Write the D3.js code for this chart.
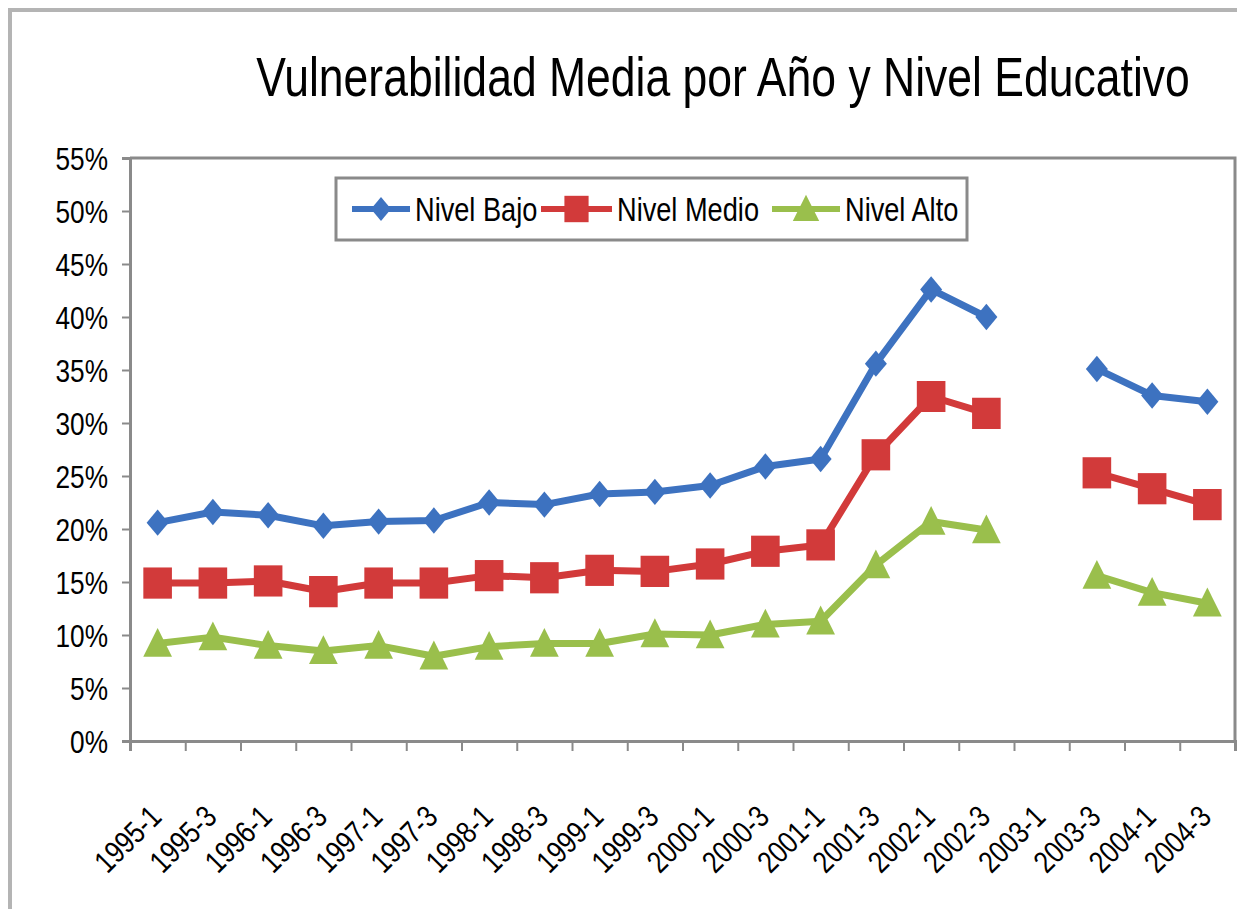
<!DOCTYPE html>
<html>
  <head>
    <meta charset="utf-8">
    <style type="text/css">
      body { margin: 0; background: #fff; }
      svg text { font-family: "Liberation Sans", Arial, sans-serif; fill: #000; }
    </style>
    <title>Vulnerabilidad Media por Año y Nivel Educativo</title>
  </head>
  <body>
    <script src="https://cdn.jsdelivr.net/npm/d3@7"></script>
    <script>

/*========== Data ==========*/
const categories = ["1995-1", "1995-3", "1996-1", "1996-3", "1997-1", "1997-3", "1998-1", "1998-3",
  "1999-1", "1999-3", "2000-1", "2000-3", "2001-1", "2001-3", "2002-1", "2002-3",
  "2003-1", "2003-3", "2004-1", "2004-3"];

// values in %, null = no data (2003-1)
const nivelBajo  = [20.6, 21.6, 21.3, 20.3, 20.7, 20.8, 22.5, 22.3, 23.3, 23.5, 24.1, 25.9, 26.6, 35.6, 42.6, 40.0, null, 35.1, 32.6, 32.0];
const nivelMedio = [14.9, 14.9, 15.1, 14.1, 14.9, 14.9, 15.6, 15.4, 16.1, 16.0, 16.7, 17.9, 18.5, 27.0, 32.5, 30.9, null, 25.3, 23.8, 22.3];
const nivelAlto  = [9.2, 9.8, 9.0, 8.5, 9.0, 8.0, 8.9, 9.2, 9.2, 10.1, 10.0, 11.0, 11.3, 16.6, 20.7, 19.9, null, 15.6, 14.0, 13.0];

const seriesNames = ["Nivel Bajo", "Nivel Medio", "Nivel Alto"];
const yTicks = [0, 5, 10, 15, 20, 25, 30, 35, 40, 45, 50, 55];

/*========== Zones ==========*/
const W = 1237, H = 909;
const plot = {left: 130, right: 1235, top: 158, bottom: 741};
const colors = ["#3d72c0", "#d23a3a", "#9abf4c"];
const squeeze = 0.82; // the original font is a condensed one

var svg = d3.select("body").append("svg")
    .attr("width", W)
    .attr("height", H);

// outer chart frame
svg.append("rect")
    .attr("x", 10).attr("y", 10)
    .attr("width", W + 20).attr("height", H + 20)
    .attr("fill", "#fff")
    .attr("stroke", "#b4b4b4")
    .attr("stroke-width", 4);

// title
svg.append("text")
    .attr("transform", "translate(723,96) scale(0.795,1)")
    .attr("text-anchor", "middle")
    .attr("font-size", 56)
  .text("Vulnerabilidad Media por Año y Nivel Educativo");

/*========== Scales ==========*/
var x = d3.scaleBand()
    .domain(categories)
    .range([plot.left, plot.right]);
var xBound = d3.scaleLinear()
    .domain([0, categories.length])
    .range([plot.left, plot.right]);
var y = d3.scaleLinear()
    .domain([0, 55])
    .range([plot.bottom, plot.top]);

// plot area border (top + right)
svg.append("path")
    .attr("d", `M${plot.left},${plot.top}H${plot.right}V${plot.bottom}`)
    .attr("fill", "none")
    .attr("stroke", "#8a8a8a")
    .attr("stroke-width", 3);

/*========== Axes ==========*/
var yAxis = svg.append("g")
    .attr("transform", `translate(${plot.left},0)`)
    .call(d3.axisLeft(y).tickValues(yTicks).tickSize(8).tickFormat(""));
yAxis.select(".domain").attr("stroke", "#8a8a8a").attr("stroke-width", 3);
yAxis.selectAll(".tick line").attr("stroke", "#8a8a8a").attr("stroke-width", 2);

// y labels, drawn apart so they can be condensed
svg.append("g").selectAll("text")
    .data(yTicks)
    .enter()
    .append("text")
    .attr("transform", d => `translate(108,${y(d)}) scale(${squeeze},1)`)
    .attr("text-anchor", "end")
    .attr("dy", "0.36em")
    .attr("font-size", 32)
  .text(d => d + "%");

var xAxis = svg.append("g")
    .attr("transform", `translate(0,${plot.bottom})`)
    .call(d3.axisBottom(xBound).tickValues(d3.range(categories.length + 1)).tickSize(10).tickFormat(""));
xAxis.select(".domain").attr("stroke", "#8a8a8a").attr("stroke-width", 3);
xAxis.selectAll(".tick line").attr("stroke", "#8a8a8a").attr("stroke-width", 2);

// rotated category labels
svg.append("g").selectAll("text")
    .data(categories)
    .enter()
    .append("text")
    .attr("transform", d => `translate(${x(d) + x.bandwidth() / 2 - 2},${plot.bottom + 70}) rotate(-45) scale(${squeeze},1)`)
    .attr("text-anchor", "end")
    .attr("dy", "0.35em")
    .attr("font-size", 31)
  .text(d => d);

/*========== Markers ==========*/
function markerPath(kind, s) {
  if (kind == 0) { // diamond
    return `M0,${-s * 0.6}L${s * 0.5},0L0,${s * 0.6}L${-s * 0.5},0Z`;
  } else if (kind == 1) { // square
    return `M${-s * 0.55},${-s * 0.6}H${s * 0.55}V${s * 0.6}H${-s * 0.55}Z`;
  } else { // triangle
    return `M0,${-s * 0.65}L${s * 0.6},${s * 0.55}L${-s * 0.6},${s * 0.55}Z`;
  }
}
const markerSize = [22, 26, 24];

/*========== Lines ==========*/
const allSeries = [nivelBajo, nivelMedio, nivelAlto];
var line = d3.line()
    .defined(d => d != null)
    .x((d, i) => x(categories[i]) + x.bandwidth() / 2)
    .y(d => y(d));

for (let k = allSeries.length - 1; k >= 0; k--) {
  svg.append("path")
      .datum(allSeries[k])
      .attr("fill", "none")
      .attr("stroke", colors[k])
      .attr("stroke-width", 7)
      .attr("stroke-linejoin", "round")
      .attr("d", line);

  svg.append("g").selectAll("path")
      .data(allSeries[k].map((v, i) => ({v: v, c: categories[i]})).filter(d => d.v != null))
      .enter()
      .append("path")
      .attr("transform", d => `translate(${x(d.c) + x.bandwidth() / 2},${y(d.v)})`)
      .attr("d", markerPath(k, markerSize[k]))
      .attr("fill", colors[k]);
}

/*========== Legend ==========*/
svg.append("rect")
    .attr("x", 336).attr("y", 178)
    .attr("width", 631).attr("height", 62)
    .attr("fill", "#fff")
    .attr("stroke", "#8a8a8a")
    .attr("stroke-width", 3);

const legendX = [352, 541, 772];
const legendLen = [58, 71, 68];
var legend = svg.append("g").selectAll("g")
    .data(seriesNames)
    .enter()
    .append("g")
    .attr("transform", (d, i) => `translate(${legendX[i]},209)`);
legend.append("line")
    .attr("x1", 0).attr("x2", (d, i) => legendLen[i])
    .attr("stroke", (d, i) => colors[i])
    .attr("stroke-width", 6);
legend.append("path")
    .attr("transform", (d, i) => `translate(${legendLen[i] / 2},0)`)
    .attr("d", (d, i) => markerPath(i, i == 0 ? 20 : 22))
    .attr("fill", (d, i) => colors[i]);
legend.append("text")
    .attr("transform", (d, i) => `translate(${legendLen[i] + 5},0) scale(0.8,1)`)
    .attr("dy", "0.35em")
    .attr("font-size", 34)
  .text(d => d);

    </script>
  </body>
</html>
